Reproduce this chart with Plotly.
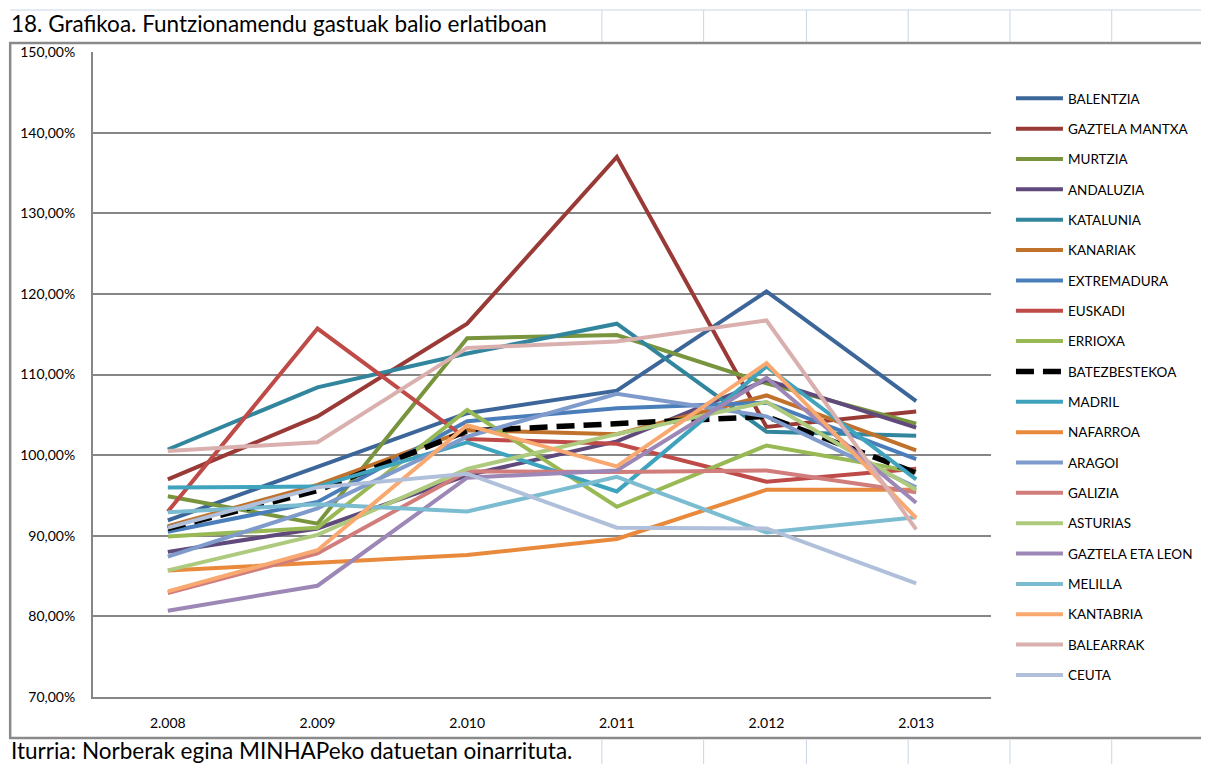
import plotly.graph_objects as go

years = ["2.008", "2.009", "2.010", "2.011", "2.012", "2.013"]

series_names = [
    "BALENTZIA", "GAZTELA MANTXA", "MURTZIA", "ANDALUZIA", "KATALUNIA",
    "KANARIAK", "EXTREMADURA", "EUSKADI", "ERRIOXA", "BATEZBESTEKOA",
    "MADRIL", "NAFARROA", "ARAGOI", "GALIZIA", "ASTURIAS",
    "GAZTELA ETA LEON", "MELILLA", "KANTABRIA", "BALEARRAK", "CEUTA",
]

balentzia = [91.9, 98.6, 105.2, 108.0, 120.3, 106.7]
gaztela_mantxa = [97.0, 104.8, 116.3, 137.0, 103.5, 105.4]
murtzia = [94.9, 91.5, 114.5, 114.9, 108.9, 103.9]
andaluzia = [88.0, 90.9, 97.5, 101.7, 109.3, 103.4]
katalunia = [100.7, 108.4, 112.6, 116.3, 102.9, 102.4]
kanariak = [91.2, 96.3, 103.1, 102.6, 107.4, 100.6]
extremadura = [90.5, 94.2, 104.2, 105.8, 106.5, 99.5]
euskadi = [93.0, 115.7, 102.0, 101.4, 96.7, 98.3]
errioxa = [89.9, 91.0, 105.6, 93.6, 101.2, 97.9]
batezbestekoa = [90.9, 95.6, 103.0, 103.9, 104.8, 97.8]
madril = [96.0, 96.1, 101.6, 95.5, 111.0, 97.0]
nafarroa = [85.7, 86.6, 87.6, 89.6, 95.7, 95.7]
aragoi = [87.4, 93.4, 102.3, 107.6, 104.8, 96.0]
galizia = [82.9, 87.8, 98.0, 97.9, 98.1, 95.4]
asturias = [85.7, 90.1, 98.3, 102.6, 106.6, 95.7]
gaztela_eta_leon = [80.7, 83.8, 97.2, 98.1, 109.6, 94.1]
melilla = [92.9, 93.9, 93.0, 97.3, 90.4, 92.3]
kantabria = [83.1, 88.2, 103.7, 98.6, 111.4, 92.2]
balearrak = [100.5, 101.6, 113.3, 114.1, 116.7, 90.8]
ceuta = [91.0, 96.0, 97.7, 91.0, 90.9, 84.1]

series_values = [
    balentzia, gaztela_mantxa, murtzia, andaluzia, katalunia,
    kanariak, extremadura, euskadi, errioxa, batezbestekoa,
    madril, nafarroa, aragoi, galizia, asturias,
    gaztela_eta_leon, melilla, kantabria, balearrak, ceuta,
]

colors = [
    "#3C6699", "#9A3A37", "#78953D", "#60497B", "#31869D",
    "#C0722C", "#4A7EBB", "#BE4B48", "#98B954", "#000000",
    "#40A3BE", "#E8893B", "#7E9BCB", "#D07D7B", "#AECA7E",
    "#9C87B6", "#7CBCD1", "#F9A970", "#DAB0AF", "#B1C0DA",
]

ytick_vals = [70, 80, 90, 100, 110, 120, 130, 140, 150]
ytick_text = ["70,00%", "80,00%", "90,00%", "100,00%", "110,00%",
              "120,00%", "130,00%", "140,00%", "150,00%"]

title_text = "18. Grafikoa. Funtzionamendu gastuak balio erlatiboan"
source_text = "Iturria: Norberak egina MINHAPeko datuetan oinarrituta."

FONT = "Lato"

fig = go.Figure()
for name, vals, col in zip(series_names, series_values, colors):
    is_avg = name == "BATEZBESTEKOA"
    fig.add_trace(go.Scatter(
        x=years, y=vals, name=name, mode="lines",
        legendgroup=name,
        line=dict(color=col, width=5.5 if is_avg else 4,
                  dash="18px,9px" if is_avg else "solid"),
        hoverinfo="x+y+name",
    ))

# page is rendered with an 8px body margin: work in page pixels
OFF = 8
W, H = 1209, 764
L, R, T, B = 91, 991, 52, 697  # plot area in page pixels


def px(xp):
    return (xp - L) / (R - L)


def py(yp):
    return (B - yp) / (B - T)


shapes = []
# outer chart border
shapes.append(dict(type="rect", xref="paper", yref="paper",
                   x0=px(8), x1=px(1215), y0=py(43), y1=py(738),
                   line=dict(color="#8A8A8A", width=2.5), layer="below"))
# spreadsheet cell grid (background decoration)
for xv in [601, 703, 806, 908, 1010, 1112]:
    shapes.append(dict(type="line", xref="paper", yref="paper",
                       x0=px(xv), x1=px(xv), y0=py(10), y1=py(42),
                       line=dict(color="#C9D5E6", width=1), layer="below"))
    shapes.append(dict(type="line", xref="paper", yref="paper",
                       x0=px(xv), x1=px(xv), y0=py(740), y1=py(775),
                       line=dict(color="#C9D5E6", width=1), layer="below"))
shapes.append(dict(type="line", xref="paper", yref="paper",
                   x0=px(8), x1=px(1215), y0=py(10), y1=py(10),
                   line=dict(color="#C9D5E6", width=1), layer="below"))

fig.update_layout(
    width=W, height=H, autosize=False,
    margin=dict(l=L - OFF, r=W - (R - OFF), t=T - OFF, b=H - (B - OFF), pad=0),
    paper_bgcolor="white", plot_bgcolor="white",
    font=dict(family=FONT, size=12, color="#000000"),
    showlegend=True,
    legend=dict(x=px(1011), y=py(83), xanchor="left", yanchor="top",
                font=dict(family=FONT, size=13.5, color="#000000"),
                tracegroupgap=9.8, itemwidth=47,
                bgcolor="rgba(0,0,0,0)"),
    shapes=shapes,
    annotations=[
        dict(text=title_text, xref="paper", yref="paper",
             x=px(7), y=py(39), xanchor="left", yanchor="bottom",
             showarrow=False, font=dict(family=FONT, size=22.5, color="#000000")),
        dict(text=source_text, xref="paper", yref="paper",
             x=px(7), y=py(766), xanchor="left", yanchor="bottom",
             showarrow=False, font=dict(family=FONT, size=22.5, color="#000000")),
    ],
)

fig.update_xaxes(
    type="category", categoryorder="array", categoryarray=years,
    range=[-0.5, 5.5],
    showgrid=False, showline=True, linecolor="#868686", linewidth=2,
    ticks="", tickfont=dict(family=FONT, size=14), ticklabelstandoff=12,
    zeroline=False,
)
fig.update_yaxes(
    range=[70, 150], tickvals=ytick_vals, ticktext=ytick_text,
    showgrid=True, gridcolor="#868686", gridwidth=2,
    showline=True, linecolor="#868686", linewidth=2,
    ticks="", tickfont=dict(family=FONT, size=14), ticklabelstandoff=13,
    zeroline=False,
)

fig.write_html("out.html")
